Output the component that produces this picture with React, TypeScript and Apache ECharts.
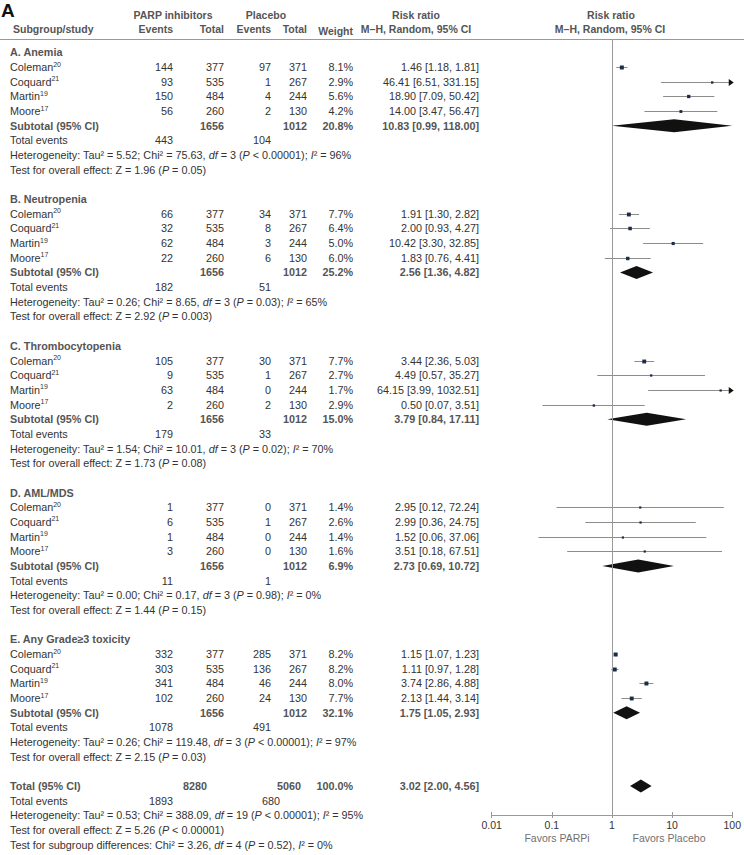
import React, { useEffect, useRef } from "react";
import * as echarts from "echarts";

// ---------- data ----------
const groupNames = ["A. Anemia", "B. Neutropenia", "C. Thrombocytopenia", "D. AML/MDS", "E. Any Grade\u22653 toxicity"];
const studyNames = ["Coleman", "Coquard", "Martin", "Moore"];
const studyRefs = ["20", "21", "19", "17"];
const parpTotals = [377, 535, 484, 260];
const placTotals = [371, 267, 244, 130];
const parpEvents = [
  [144, 93, 150, 56],
  [66, 32, 62, 22],
  [105, 9, 63, 2],
  [1, 6, 1, 3],
  [332, 303, 341, 102],
];
const placEvents = [
  [97, 1, 4, 2],
  [34, 8, 3, 6],
  [30, 1, 0, 2],
  [0, 1, 0, 0],
  [285, 136, 46, 24],
];
const studyWeights = [
  [8.1, 2.9, 5.6, 4.2],
  [7.7, 6.4, 5.0, 6.0],
  [7.7, 2.7, 1.7, 2.9],
  [1.4, 2.6, 1.4, 1.6],
  [8.2, 8.2, 8.0, 7.7],
];
const studyRR = [
  [1.46, 46.41, 18.9, 14.0],
  [1.91, 2.0, 10.42, 1.83],
  [3.44, 4.49, 64.15, 0.5],
  [2.95, 2.99, 1.52, 3.51],
  [1.15, 1.11, 3.74, 2.13],
];
const studyLo = [
  [1.18, 6.51, 7.09, 3.47],
  [1.3, 0.93, 3.3, 0.76],
  [2.36, 0.57, 3.99, 0.07],
  [0.12, 0.36, 0.06, 0.18],
  [1.07, 0.97, 2.86, 1.44],
];
const studyHi = [
  [1.81, 331.15, 50.42, 56.47],
  [2.82, 4.27, 32.85, 4.41],
  [5.03, 35.27, 1032.51, 3.51],
  [72.24, 24.75, 37.06, 67.51],
  [1.23, 1.28, 4.88, 3.14],
];
const subParpTotal = 1656;
const subPlacTotal = 1012;
const subWeights = [20.8, 25.2, 15.0, 6.9, 32.1];
const subRR = [10.83, 2.56, 3.79, 2.73, 1.75];
const subLo = [0.99, 1.36, 0.84, 0.69, 1.05];
const subHi = [118.0, 4.82, 17.11, 10.72, 2.93];
const subParpEvents = [443, 182, 179, 11, 1078];
const subPlacEvents = [104, 51, 33, 1, 491];
const hetTau2 = [5.52, 0.26, 1.54, 0.0, 0.26];
const hetChi2 = [75.63, 8.65, 10.01, 0.17, 119.48];
const hetDf = [3, 3, 3, 3, 3];
const hetP = ["< 0.00001", "= 0.03", "= 0.02", "= 0.98", "< 0.00001"];
const hetI2 = [96, 65, 70, 0, 97];
const effZ = [1.96, 2.92, 1.73, 1.44, 2.15];
const effP = ["= 0.05", "= 0.003", "= 0.08", "= 0.15", "= 0.03"];

const totParpTotal = 8280;
const totPlacTotal = 5060;
const totWeight = 100.0;
const totRR = 3.02;
const totLo = 2.0;
const totHi = 4.56;
const totParpEvents = 1893;
const totPlacEvents = 680;
const totHet = { tau2: 0.53, chi2: 388.09, df: 19, p: "< 0.00001", i2: 95 };
const totEff = { z: 5.26, p: "< 0.00001" };
const subgroupDiff = { chi2: 3.26, df: 4, p: "= 0.52", i2: 0 };

const tickLabels = ["0.01", "0.1", "1", "10", "100"];
const axisMin = 0.01;
const axisMax = 100;

// ---------- layout helpers ----------
const FONT = "'Liberation Sans', Arial, Helvetica, sans-serif";
const FS = 10.8;
const TXT = "#333";
const HEAD = "#555";
const ROW0 = 67; // pixel of first study row
const ROWH = 14.675;
const GRID_TOP = 40;
const GRID_BOTTOM_Y = 815;
const yMin = (GRID_TOP - ROW0) / ROWH;
const yMax = (GRID_BOTTOM_Y - ROW0) / ROWH;

const COL = { name: 10, pe: 173, pt: 224, ce: 271, ct: 307, w: 353, rr: 479 };

const fmtCI = (v: number, l: number, h: number) => `${v.toFixed(2)} [${l.toFixed(2)}, ${h.toFixed(2)}]`;

type Cell = { x: number; text: string; align: "left" | "right" | "center"; bold?: boolean; color?: string };
type Row = { r: number; cells: Cell[] };

const rows: Row[] = [];
const studyData: number[][] = [];
const diamondData: number[][] = [];

groupNames.forEach((gName, g) => {
  const base = g * 10;
  rows.push({ r: base - 1, cells: [{ x: COL.name, text: gName, align: "left", bold: true, color: HEAD }] });
  studyNames.forEach((s, i) => {
    const r = base + i;
    rows.push({
      r,
      cells: [
        { x: COL.name, text: `${s}{s|${studyRefs[i]}}`, align: "left" },
        { x: COL.pe, text: String(parpEvents[g][i]), align: "right" },
        { x: COL.pt, text: String(parpTotals[i]), align: "right" },
        { x: COL.ce, text: String(placEvents[g][i]), align: "right" },
        { x: COL.ct, text: String(placTotals[i]), align: "right" },
        { x: COL.w, text: `${studyWeights[g][i].toFixed(1)}%`, align: "right" },
        { x: COL.rr, text: fmtCI(studyRR[g][i], studyLo[g][i], studyHi[g][i]), align: "right" },
      ],
    });
    studyData.push([studyRR[g][i], r, studyLo[g][i], studyHi[g][i], studyWeights[g][i]]);
  });
  rows.push({
    r: base + 4,
    cells: [
      { x: COL.name, text: "Subtotal (95% CI)", align: "left", bold: true, color: HEAD },
      { x: COL.pt, text: String(subParpTotal), align: "right", bold: true, color: HEAD },
      { x: COL.ct, text: String(subPlacTotal), align: "right", bold: true, color: HEAD },
      { x: COL.w, text: `${subWeights[g].toFixed(1)}%`, align: "right", bold: true, color: HEAD },
      { x: COL.rr, text: fmtCI(subRR[g], subLo[g], subHi[g]), align: "right", bold: true, color: HEAD },
    ],
  });
  diamondData.push([subRR[g], base + 4, subLo[g], subHi[g]]);
  rows.push({
    r: base + 5,
    cells: [
      { x: COL.name, text: "Total events", align: "left" },
      { x: COL.pe, text: String(subParpEvents[g]), align: "right" },
      { x: COL.ce, text: String(subPlacEvents[g]), align: "right" },
    ],
  });
  rows.push({
    r: base + 6,
    cells: [
      {
        x: COL.name,
        text: `Heterogeneity: Tau\u00b2 = ${hetTau2[g].toFixed(2)}; Chi\u00b2 = ${hetChi2[g].toFixed(2)}, {i|df} = ${hetDf[g]} ({i|P} ${hetP[g]}); {i|I}\u00b2 = ${hetI2[g]}%`,
        align: "left",
      },
    ],
  });
  rows.push({
    r: base + 7,
    cells: [{ x: COL.name, text: `Test for overall effect: Z = ${effZ[g].toFixed(2)} ({i|P} ${effP[g]})`, align: "left" }],
  });
});

rows.push({
  r: 49,
  cells: [
    { x: COL.name, text: "Total (95% CI)", align: "left", bold: true, color: HEAD },
    { x: 207, text: String(totParpTotal), align: "right", bold: true, color: HEAD },
    { x: 301, text: String(totPlacTotal), align: "right", bold: true, color: HEAD },
    { x: COL.w, text: `${totWeight.toFixed(1)}%`, align: "right", bold: true, color: HEAD },
    { x: COL.rr, text: fmtCI(totRR, totLo, totHi), align: "right", bold: true, color: HEAD },
  ],
});
diamondData.push([totRR, 49, totLo, totHi]);
rows.push({
  r: 50,
  cells: [
    { x: COL.name, text: "Total events", align: "left" },
    { x: COL.pe, text: String(totParpEvents), align: "right" },
    { x: 280, text: String(totPlacEvents), align: "right" },
  ],
});
rows.push({
  r: 51,
  cells: [
    {
      x: COL.name,
      text: `Heterogeneity: Tau\u00b2 = ${totHet.tau2.toFixed(2)}; Chi\u00b2 = ${totHet.chi2.toFixed(2)}, {i|df} = ${totHet.df} ({i|P} ${totHet.p}); {i|I}\u00b2 = ${totHet.i2}%`,
      align: "left",
    },
  ],
});
rows.push({
  r: 52,
  cells: [{ x: COL.name, text: `Test for overall effect: Z = ${totEff.z.toFixed(2)} ({i|P} ${totEff.p})`, align: "left" }],
});
rows.push({
  r: 53,
  cells: [
    {
      x: COL.name,
      text: `Test for subgroup differences: Chi\u00b2 = ${subgroupDiff.chi2.toFixed(2)}, {i|df} = ${subgroupDiff.df} ({i|P} ${subgroupDiff.p}), {i|I}\u00b2 = ${subgroupDiff.i2}%`,
      align: "left",
    },
  ],
});

function richFor(color: string, bold: boolean) {
  const fw = bold ? "bold" : "normal";
  return {
    i: { fontStyle: "italic", fontSize: FS, fontFamily: FONT, fill: color, fontWeight: fw },
    s: { fontSize: 7, fontFamily: FONT, fill: color, verticalAlign: "top", lineHeight: 13 },
  };
}

function headText(x: number, y: number, text: string, align: string, extra: any = {}) {
  return {
    type: "text",
    x,
    y,
    silent: true,
    style: {
      text,
      fill: HEAD,
      font: `bold 10.5px ${FONT}`,
      align,
      textAlign: align,
      verticalAlign: "middle",
      textVerticalAlign: "middle",
      ...extra,
    },
  };
}

export default function App() {
  const ref = useRef<HTMLDivElement>(null);
  useEffect(() => {
    const chart = echarts.init(ref.current!, null, { renderer: "svg" });
    const option: any = {
      animation: false,
      backgroundColor: "#fff",
      grid: { left: 491.7, right: 744 - 733.3, top: GRID_TOP, bottom: 855 - GRID_BOTTOM_Y, containLabel: false },
      xAxis: [
        {
          type: "log",
          logBase: 10,
          min: axisMin,
          max: axisMax,
          position: "bottom",
          splitLine: { show: false },
          axisLine: { show: true, onZero: false, lineStyle: { color: "#999", width: 1 } },
          axisTick: { show: true, length: 3, lineStyle: { color: "#999" } },
          axisLabel: {
            color: TXT,
            fontSize: 10.5,
            fontFamily: FONT,
            margin: 4,
            formatter: (v: number) => tickLabels[Math.round(Math.log10(v)) + 2] ?? "",
          },
        },
        {
          type: "log",
          logBase: 10,
          min: axisMin,
          max: axisMax,
          position: "bottom",
          splitLine: { show: false },
          axisLine: { show: false, onZero: false },
          axisTick: { show: true, inside: true, length: 3, lineStyle: { color: "#999" } },
          axisLabel: { show: false },
        },
      ],
      yAxis: { type: "value", inverse: true, min: yMin, max: yMax, show: false, splitLine: { show: false } },
      graphic: [
        { type: "text", x: 1, y: 10, silent: true, style: { text: "A", fill: "#111", font: `bold 19px ${FONT}`, align: "left", textAlign: "left", verticalAlign: "middle", textVerticalAlign: "middle" } },
        headText(173, 15, "PARP inhibitors", "center"),
        headText(266, 15, "Placebo", "center"),
        headText(416, 15, "Risk ratio", "center"),
        headText(611, 15, "Risk ratio", "center"),
        headText(13, 29, "Subgroup/study", "left"),
        headText(COL.pe, 29, "Events", "right"),
        headText(COL.pt, 29, "Total", "right"),
        headText(COL.ce, 29, "Events", "right"),
        headText(COL.ct, 29, "Total", "right"),
        headText(COL.w, 31, "Weight", "right"),
        headText(416, 29, "M\u2013H, Random, 95% CI", "center"),
        headText(610, 29, "M\u2013H, Random, 95% CI", "center"),
        { type: "line", silent: true, shape: { x1: 0, y1: 39.5, x2: 744, y2: 39.5 }, style: { stroke: "#999", lineWidth: 1 } },
        { type: "text", x: 557, y: 838, silent: true, style: { text: "Favors PARPi", fill: "#707070", font: `10.5px ${FONT}`, align: "center", textAlign: "center", verticalAlign: "middle", textVerticalAlign: "middle" } },
        { type: "text", x: 669, y: 838, silent: true, style: { text: "Favors Placebo", fill: "#707070", font: `10.5px ${FONT}`, align: "center", textAlign: "center", verticalAlign: "middle", textVerticalAlign: "middle" } },
      ],
      series: [
        {
          type: "custom",
          name: "studies",
          xAxisIndex: 0,
          yAxisIndex: 0,
          clip: false,
          silent: true,
          data: studyData,
          encode: { x: 0, y: 1 },
          renderItem: (params: any, api: any) => {
            const est = api.value(0);
            const row = api.value(1);
            const l = api.value(2);
            const h = api.value(3);
            const w = api.value(4);
            const p = api.coord([est, row]);
            const y = Math.round(p[1]) + 0.5;
            const xl = api.coord([Math.max(l, axisMin), row])[0];
            const xh = api.coord([Math.min(h, axisMax), row])[0];
            const s = Math.max(2.2, 1.4 * Math.sqrt(w));
            const children: any[] = [
              { type: "line", shape: { x1: xl, y1: y, x2: xh, y2: y }, style: { stroke: "#8c8c8c", lineWidth: 1 } },
              { type: "rect", shape: { x: p[0] - s / 2, y: y - s / 2, width: s, height: s }, style: { fill: "#1c2b4a" } },
            ];
            if (h > axisMax) {
              children.push({
                type: "polygon",
                shape: { points: [[xh + 1.5, y], [xh - 3.5, y - 3.5], [xh - 3.5, y + 3.5]] },
                style: { fill: "#111" },
              });
            }
            return { type: "group", children };
          },
          markLine: {
            silent: true,
            symbol: "none",
            label: { show: false },
            lineStyle: { color: "#999", width: 1, type: "solid" },
            data: [{ xAxis: 1 }],
          },
        },
        {
          type: "custom",
          name: "diamonds",
          xAxisIndex: 0,
          yAxisIndex: 0,
          clip: false,
          silent: true,
          data: diamondData,
          encode: { x: 0, y: 1 },
          renderItem: (params: any, api: any) => {
            const est = api.value(0);
            const row = api.value(1);
            const l = api.value(2);
            const h = api.value(3);
            const p = api.coord([est, row]);
            const xl = api.coord([Math.max(l, axisMin), row])[0];
            const xh = api.coord([Math.min(h, axisMax), row])[0];
            const hh = 6.5;
            return {
              type: "polygon",
              shape: { points: [[xl, p[1]], [p[0], p[1] - hh], [xh, p[1]], [p[0], p[1] + hh]] },
              style: { fill: "#111" },
            };
          },
        },
        {
          type: "custom",
          name: "table",
          xAxisIndex: 0,
          yAxisIndex: 0,
          clip: false,
          silent: true,
          data: rows.map((r) => [1, r.r]),
          encode: { x: 0, y: 1 },
          renderItem: (params: any, api: any) => {
            const row = rows[params.dataIndex];
            const y = api.coord([1, api.value(1)])[1];
            return {
              type: "group",
              children: row.cells.map((c) => {
                const color = c.color ?? TXT;
                return {
                  type: "text",
                  x: c.x,
                  y,
                  style: {
                    text: c.text,
                    fill: color,
                    font: `${c.bold ? "bold " : ""}${FS}px ${FONT}`,
                    align: c.align,
                    textAlign: c.align,
                    verticalAlign: "middle",
                    textVerticalAlign: "middle",
                    rich: richFor(color, !!c.bold),
                  },
                };
              }),
            };
          },
        },
      ],
    };
    chart.setOption(option);
    return () => chart.dispose();
  }, []);
  return (
    <div
      ref={ref}
      style={{ position: "absolute", left: 0, top: 0, width: 744, height: 855, background: "#fff" }}
    />
  );
}
